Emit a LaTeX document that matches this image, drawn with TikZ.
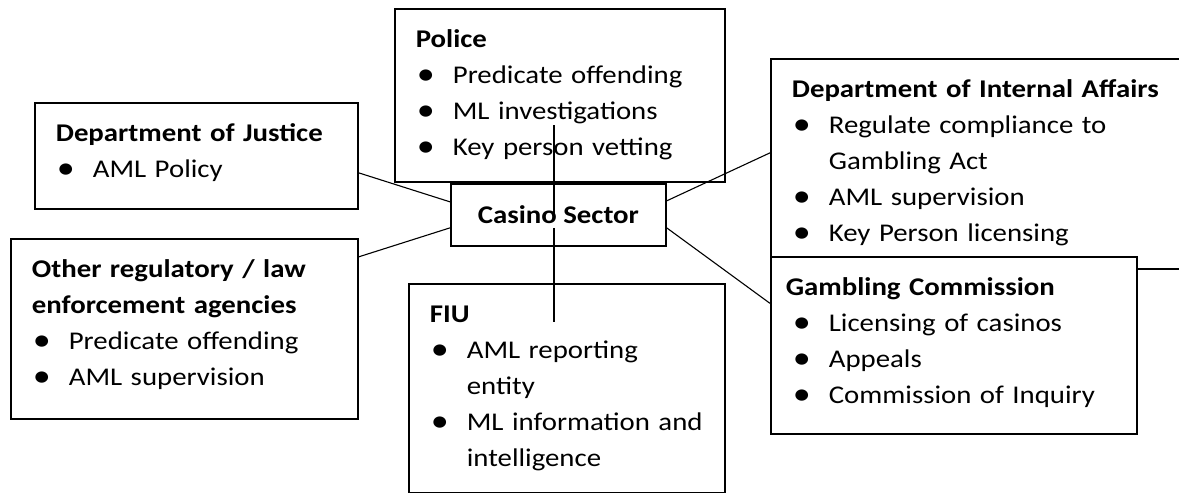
\documentclass[tikz,border=0pt]{standalone}
\usepackage{fontspec}
\setmainfont{Carlito}[FakeStretch=1.13]
\usetikzlibrary{positioning, calc}

\newcommand{\itm}[1]{\mbox{\makebox[37pt][l]{\hspace{1pt}\raisebox{-0.5pt}{\scalebox{1.25}{\textbullet}}}#1}}
\newcommand{\cnt}[1]{\mbox{\hspace*{37pt}#1}}
\newcommand{\hd}[1]{\mbox{\bfseries #1}}

\begin{document}
\begin{tikzpicture}[x=1pt, y=-1pt,
  agency/.style={draw, line width=1.7pt, fill=white, anchor=north west, inner xsep=21pt, inner ysep=0pt,
    align=left, text height=39pt, font=\fontsize{25.5}{36}\selectfont},
  hub/.style={draw, line width=1.7pt, fill=white, anchor=north west, minimum width=215pt, minimum height=62pt,
    inner sep=0pt, font=\fontsize{25.5}{36}\selectfont\bfseries},
  link/.style={line width=1.1pt}]
  \useasboundingbox (0,0) rectangle (1179,493);
  \clip (0,0) rectangle (1179,493);

  \node[agency, text width=288pt, text depth=134pt] (police) at (394,8) {
    \hd{Police}\\ \itm{Predicate offending}\\ \itm{ML investigations}\\ \itm{Key person vetting}};
  \node[agency, text width=281pt, text depth=67pt] (doj) at (34,102) {
    \hd{Department of Justice}\\ \itm{AML Policy}};
  \node[agency, text width=305pt, text depth=141pt] (other) at (10,238) {
    \hd{Other regulatory / law}\\ \hd{enforcement agencies}\\ \itm{Predicate offending}\\ \itm{AML supervision}};
  \node[agency, text width=274pt, text depth=170pt] (fiu) at (408,283) {
    \hd{FIU}\\ \itm{AML reporting}\\ \cnt{entity}\\ \itm{ML information and}\\ \cnt{intelligence}};
  \node[agency, text width=388pt, text depth=171pt] (dia) at (770,58) {
    \hd{Department of Internal Affairs}\\ \itm{Regulate compliance to}\\ \cnt{Gambling Act}\\
    \itm{AML supervision}\\ \itm{Key Person licensing}};
  \node[agency, text width=324pt, text depth=138pt] (gambling) at (770,256) {
    \hspace*{-6pt}\hd{Gambling Commission}\\ \itm{Licensing of casinos}\\ \itm{Appeals}\\ \itm{Commission of Inquiry}};
  \node[hub] (casino) at (450,183) {Casino Sector};

  % links to the casino sector
  \coordinate (polend) at (554,125);
  \coordinate (fiuend) at (554,322);
  \draw[link] ([yshift=-17pt]doj.east) -- ([yshift=13pt]casino.west);
  \draw[link] ([yshift=72pt]other.east) -- ([yshift=-13pt]casino.west);
  \draw[link] ([yshift=14pt]casino.east) -- ([yshift=11pt]dia.west);
  \draw[link] ([yshift=-13pt]casino.east) -- ([yshift=42pt]gambling.west);
  \draw[link] (polend) -- (polend |- casino.center);
  \draw[link] ($(fiuend |- casino.center)+(0,13)$) -- (fiuend);
\end{tikzpicture}
\end{document}
